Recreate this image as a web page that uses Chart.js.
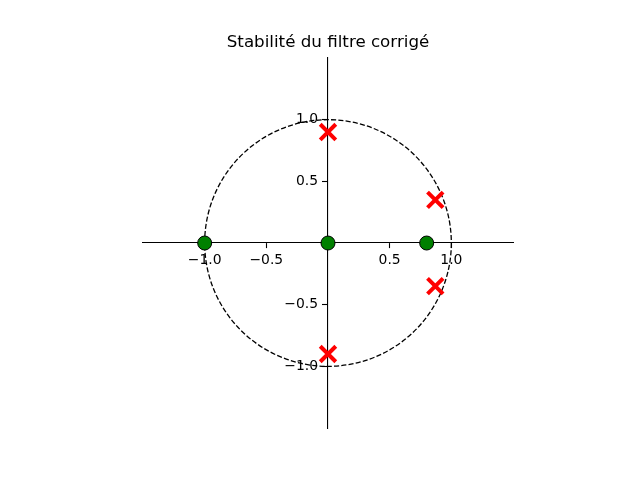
<!DOCTYPE html>
<html>
<head>
<meta charset="utf-8">
<script src="https://cdn.jsdelivr.net/npm/chart.js@4.4.1/dist/chart.umd.min.js"></script>
<style>
  html, body { margin: 0; padding: 0; background: #fff; }
  #wrap { width: 640px; height: 480px; }
</style>
</head>
<body>
<div id="wrap"><canvas id="pz-chart" width="640" height="480"></canvas></div>
<script>
  // zeros and poles of the corrected filter
  var zerosRe = [-1.0, 0.0, 0.8];
  var zerosIm = [0.0, 0.0, 0.0];
  var polesRe = [0.0, 0.0, 0.87, 0.87];
  var polesIm = [0.9, -0.9, 0.35, -0.35];
  var tickValues = [-1.0, -0.5, 0.5, 1.0];
  var unitRadius = 1.0;
  var axisMin = -1.5, axisMax = 1.5;

  var fmt = function(v) {
    var s = Math.abs(v).toFixed(1);
    return v < 0 ? '\u2212' + s : s;
  };

  // dashed unit circle, drawn through the scales
  var unitCircle = {
    id: 'unitCircle',
    beforeDatasetsDraw: function(chart) {
      var x = chart.scales.x, y = chart.scales.y, ctx = chart.ctx;
      var cx = x.getPixelForValue(0), cy = y.getPixelForValue(0);
      var rx = x.getPixelForValue(unitRadius) - cx;
      var ry = cy - y.getPixelForValue(unitRadius);
      ctx.save();
      ctx.beginPath();
      ctx.setLineDash([5.1, 2.2]);
      ctx.lineWidth = 1.3;
      ctx.strokeStyle = '#000';
      ctx.ellipse(cx, cy, rx, ry, 0, 0, 2 * Math.PI);
      ctx.stroke();
      ctx.restore();
    }
  };

  var axisOpts = function(pos) {
    return {
      type: 'linear',
      min: axisMin, max: axisMax,
      position: pos,
      afterBuildTicks: function(scale) {
        scale.ticks = tickValues.map(function(v) { return { value: v }; });
      },
      ticks: {
        color: '#000',
        padding: 4,
        font: { family: 'DejaVu Sans', size: 13.9 },
        callback: function(v) { return fmt(v); }
      },
      grid: {
        display: true, drawOnChartArea: false, drawTicks: true,
        tickLength: 5, tickWidth: 1.1, tickColor: '#000'
      },
      border: { display: true, color: '#000', width: 1.1 }
    };
  };

  var yAxis = axisOpts({ x: 0 });
  // centred y axis puts its labels right on the line; push them left past the ticks
  yAxis.afterFit = function(scale) {
    if (scale._shifted) return;
    scale._shifted = true;
    var orig = scale._computeLabelItems;
    scale._computeLabelItems = function(area) {
      var items = orig.call(this, area);
      items.forEach(function(it) { it.options.translation[0] -= 10; });
      return items;
    };
  };

  Chart.defaults.font.family = 'DejaVu Sans';

  new Chart(document.getElementById('pz-chart'), {
    type: 'scatter',
    data: {
      datasets: [
        {
          label: 'Zéros',
          data: zerosRe.map(function(r, i) { return { x: r, y: zerosIm[i] }; }),
          pointStyle: 'circle',
          pointRadius: 7,
          backgroundColor: '#008000',
          borderColor: '#000',
          borderWidth: 1
        },
        {
          label: 'Pôles',
          data: polesRe.map(function(r, i) { return { x: r, y: polesIm[i] }; }),
          pointStyle: 'crossRot',
          pointRadius: 11,
          borderColor: '#ff0000',
          backgroundColor: '#ff0000',
          borderWidth: 4
        }
      ]
    },
    options: {
      responsive: false,
      animation: false,
      layout: { padding: { left: 143, right: 127, top: 0, bottom: 52 } },
      scales: {
        x: axisOpts({ y: 0 }),
        y: yAxis
      },
      plugins: {
        legend: { display: false },
        tooltip: { enabled: false },
        title: {
          display: true,
          fullSize: false,
          text: 'Stabilité du filtre corrigé',
          color: '#000',
          font: { family: 'DejaVu Sans', size: 16.7, weight: 'normal', lineHeight: 1.2 },
          padding: { top: 33, bottom: 5 }
        }
      }
    },
    plugins: [unitCircle]
  });
</script>
</body>
</html>
